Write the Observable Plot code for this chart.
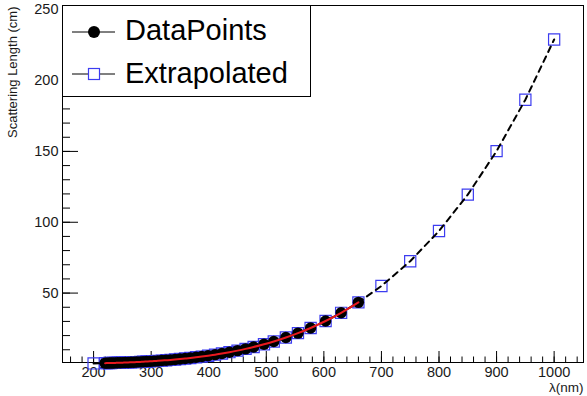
<!DOCTYPE html>
<html><head><meta charset="utf-8">
<script src="https://cdn.jsdelivr.net/npm/d3@7"></script>
<script src="https://cdn.jsdelivr.net/npm/@observablehq/plot@0.6"></script>
<style>body{margin:0;background:#fff} #chart{width:587px;height:396px}</style>
</head><body><div id="chart"></div>
<script>
// Measured data (wavelength in nm, scattering length in cm)
const dataLambda = [220, 223, 227, 230.5, 234, 238, 242, 246.5, 251, 255, 260, 265, 270, 275, 281, 286, 292, 298, 305, 311.5, 318.5, 326, 333.5, 341.5, 350, 359, 368, 378, 388, 399, 411, 423, 436, 450, 464, 478, 496, 513, 534, 555, 577, 603, 630, 660];
const dataLength = [0.54, 0.57, 0.61, 0.65, 0.69, 0.73, 0.79, 0.85, 0.91, 0.97, 1.05, 1.13, 1.22, 1.31, 1.43, 1.53, 1.67, 1.81, 1.98, 2.16, 2.36, 2.59, 2.83, 3.12, 3.44, 3.80, 4.20, 4.68, 5.19, 5.80, 6.53, 7.33, 8.28, 9.39, 10.61, 11.95, 13.86, 15.86, 18.62, 21.73, 25.38, 30.28, 36.07, 43.45];
// Extrapolated points beyond the measured range
const extraHeadLambda = [200];
const extraHeadLength = [0.37];
const extraTailLambda = [700, 750, 800, 850, 900, 950, 1000];
const extraTailLength = [55.0, 72.5, 93.8, 119.5, 150.2, 186.5, 229.0];
const xTickLabels = [200, 300, 400, 500, 600, 700, 800, 900, 1000];
const yTickLabels = [50, 100, 150, 200, 250];
const seriesNames = ["DataPoints", "Extrapolated"];
const xTitle = "λ(nm)";
const yTitle = "Scattering Length (cm)";

const dataPts = dataLambda.map((x, i) => ({x, y: dataLength[i]}));
const extraLambda = [...extraHeadLambda, ...dataLambda, ...extraTailLambda];
const extraLength = [...extraHeadLength, ...dataLength, ...extraTailLength];
const extraPts = extraLambda.map((x, i) => ({x, y: extraLength[i]}));
const xMinor = d3.range(160, 1041, 20);
const yMinor = d3.range(10, 251, 10);

const font = "'Liberation Sans', Arial, Helvetica, sans-serif";
const blue = "#3c3cf0";
const blank = () => "";
const plain = d => String(d);

const plot = Plot.plot({
  width: 587, height: 396,
  marginLeft: 62, marginRight: 4, marginTop: 5, marginBottom: 34,
  style: {fontFamily: font, background: "white", color: "black", overflow: "visible"},
  x: {domain: [146, 1051], label: null},
  y: {domain: [1, 253], label: null},
  marks: [
    Plot.axisX(xMinor, {tickSize: -5.5, tickFormat: blank}),
    Plot.axisX(xTickLabels, {tickSize: -11, tickFormat: blank}),
    Plot.axisX(xTickLabels, {tickSize: 0, tickPadding: 4, fontSize: 14.5, fill: "#1a1a1a", tickFormat: plain}),
    Plot.axisY(yMinor, {tickSize: -8, tickFormat: blank}),
    Plot.axisY(yTickLabels, {tickSize: -16, tickFormat: blank}),
    Plot.axisY(yTickLabels, {tickSize: 0, tickPadding: 4, fontSize: 14.5, fill: "#1a1a1a", tickFormat: plain}),
    Plot.frame({stroke: "black"}),
    Plot.dot(extraPts, {x: "x", y: "y", symbol: "square", r: 6.3, stroke: blue, strokeWidth: 1.2, fill: "none"}),
    Plot.line(extraPts, {x: "x", y: "y", stroke: "black", strokeWidth: 2, strokeDasharray: "6,5"}),
    Plot.line(dataPts, {x: "x", y: "y", stroke: "black", strokeWidth: 1}),
    Plot.dot(dataPts, {x: "x", y: "y", r: 5.7, fill: "black", stroke: "none"}),
    Plot.line(dataPts, {x: "x", y: "y", stroke: "#e8191f", strokeWidth: 2, curve: "natural"}),
    Plot.text([yTitle], {text: d => d, frameAnchor: "top-left", rotate: -90, textAnchor: "end", lineAnchor: "middle", dx: -50, dy: 1, fontSize: 13, fill: "#1a1a1a"}),
    Plot.text([xTitle], {text: d => d, frameAnchor: "bottom-right", textAnchor: "end", lineAnchor: "middle", dy: 25, fontSize: 13.5, fill: "#1a1a1a"})
  ]
});
document.getElementById("chart").appendChild(plot);

// Legend box inside the plot area (top-left)
const svg = d3.select(plot);
const lg = svg.append("g").attr("font-family", font).attr("text-anchor", "start");
lg.append("rect").attr("x", 62.5).attr("y", 5.5).attr("width", 248).attr("height", 91)
  .attr("fill", "white").attr("stroke", "black").attr("stroke-width", 1);
const rows = [32, 74];
lg.selectAll("line.l").data(seriesNames).join("line")
  .attr("x1", 72).attr("x2", 115).attr("y1", (d, i) => rows[i]).attr("y2", (d, i) => rows[i])
  .attr("stroke", "black").attr("stroke-width", 1);
lg.append("circle").attr("cx", 94).attr("cy", rows[0]).attr("r", 6).attr("fill", "black");
lg.append("rect").attr("x", 88.5).attr("y", rows[1] - 5.5).attr("width", 11).attr("height", 11)
  .attr("fill", "white").attr("stroke", blue).attr("stroke-width", 1.2);
lg.selectAll("text").data(seriesNames).join("text")
  .attr("x", 125).attr("y", (d, i) => [40, 83][i]).attr("font-size", 29).attr("fill", "black")
  .attr("text-anchor", "start")
  .text(d => d);
</script>
</body></html>
